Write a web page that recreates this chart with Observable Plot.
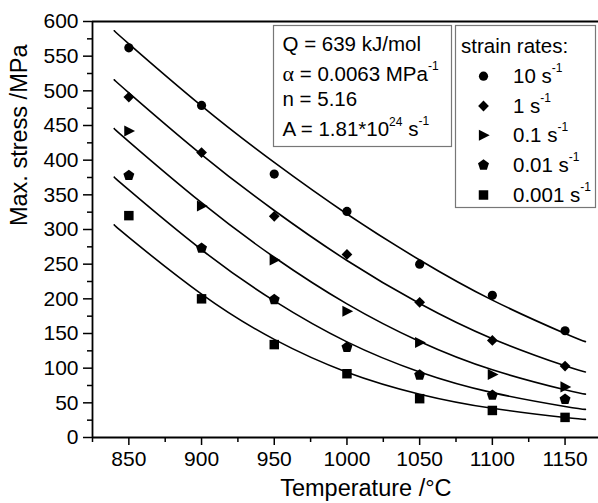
<!DOCTYPE html>
<html>
<head>
<meta charset="utf-8">
<script src="https://cdn.jsdelivr.net/npm/d3@7"></script>
<script src="https://cdn.jsdelivr.net/npm/@observablehq/plot@0.6"></script>
<style>
  html, body { margin: 0; padding: 0; background: #fff; }
  #chart { width: 598px; height: 503px; }
</style>
</head>
<body>
<div id="chart"></div>
<script>
// ---- data ----
const temps = [850, 900, 950, 1000, 1050, 1100, 1150];
const rateLabels = ["10", "1", "0.1", "0.01", "0.001"];
const stress10 = [562, 479, 380, 326, 250, 205, 154];
const stress1 = [491, 411, 319, 264, 195, 140, 103];
const stress01 = [442, 334, 256, 182, 137, 91, 73];
const stress001 = [378, 273, 199, 130, 90, 61, 55];
const stress0001 = [320, 200, 134, 92, 56, 39, 29];

// fitted curves
const fitTemps = [840, 850, 900, 950, 1000, 1050, 1100, 1150, 1164];
const fit10 = [586.7, 567.8, 478.3, 396.7, 322.4, 256.0, 198.1, 150.0, 138.3];
const fit1 = [516.0, 497.2, 408.1, 327.4, 255.3, 193.2, 142.5, 103.4, 94.5];
const fit01 = [445.5, 426.8, 338.6, 260.0, 192.7, 138.4, 97.6, 68.8, 62.5];
const fit001 = [375.5, 357.0, 270.8, 197.0, 137.9, 94.5, 64.7, 44.8, 40.6];
const fit0001 = [306.7, 288.6, 206.8, 141.5, 94.2, 62.5, 42.1, 28.9, 26.1];

const yTicks = [0, 50, 100, 150, 200, 250, 300, 350, 400, 450, 500, 550, 600];
const yMinor = [25, 75, 125, 175, 225, 275, 325, 375, 425, 475, 525, 575];
const xTicks = [850, 900, 950, 1000, 1050, 1100, 1150];
const xMinor = [825, 875, 925, 975, 1025, 1075, 1125];

const paramLines = ["Q = 639 kJ/mol", "α = 0.0063 MPa", "n = 5.16", "A = 1.81*10"];

// ---- symbols ----
const kr = s => Math.sqrt(s / Math.PI);
const symCircle = {draw(c, s) { const r = kr(s); c.moveTo(r, 0); c.arc(0, 0, r, 0, 2 * Math.PI); }};
const symDiamond = {draw(c, s) { const h = kr(s) * 1.17; c.moveTo(0, -h); c.lineTo(h, 0); c.lineTo(0, h); c.lineTo(-h, 0); c.closePath(); }};
const symTriRight = {draw(c, s) { const k = kr(s); c.moveTo(-1.0 * k, -1.2 * k); c.lineTo(1.35 * k, 0); c.lineTo(-1.0 * k, 1.2 * k); c.closePath(); }};
const symPentagon = {draw(c, s) {
  const R = kr(s) * 1.25;
  for (let i = 0; i < 5; i++) {
    const a = -Math.PI / 2 + i * 2 * Math.PI / 5;
    const x = R * Math.cos(a), y = R * Math.sin(a);
    if (i === 0) c.moveTo(x, y); else c.lineTo(x, y);
  }
  c.closePath();
}};
const symSquare = {draw(c, s) { const h = kr(s) * 1.03; c.moveTo(-h, -h); c.lineTo(h, -h); c.lineTo(h, h); c.lineTo(-h, h); c.closePath(); }};

const seriesPts = [stress10, stress1, stress01, stress001, stress0001];
const seriesFit = [fit10, fit1, fit01, fit001, fit0001];
const symbols = [symCircle, symDiamond, symTriRight, symPentagon, symSquare];

const points = [];
rateLabels.forEach((r, i) => temps.forEach((t, j) => points.push({rate: r, T: t, s: seriesPts[i][j], si: i})));
const fits = [];
rateLabels.forEach((r, i) => fitTemps.forEach((t, j) => fits.push({rate: r, T: t, s: seriesFit[i][j]})));

const R0 = 4.6;
const marks = [
  Plot.ruleY([600], {stroke: "#000", strokeWidth: 1.8}),
  Plot.ruleX([825], {stroke: "#000", strokeWidth: 1.8}),
  Plot.ruleY([0], {stroke: "#000", strokeWidth: 1.8}),
  Plot.axisY(yTicks, {tickSize: 9, tickPadding: 5, strokeWidth: 1.5, label: null, fontSize: 21, tickFormat: d => String(d)}),
  Plot.axisY(yMinor, {tickSize: 5, strokeWidth: 1.5, label: null, tickFormat: () => ""}),
  Plot.axisX(xTicks, {tickSize: 8, tickPadding: 6, strokeWidth: 1.5, label: null, fontSize: 21, tickFormat: d => String(d)}),
  Plot.axisX(xMinor, {tickSize: 5, strokeWidth: 1.5, label: null, tickFormat: () => ""}),
  Plot.line(fits, {x: "T", y: "s", z: "rate", curve: "natural", stroke: "#000", strokeWidth: 1.6}),
  ...symbols.map((sym, i) => Plot.dot(points.filter(d => d.si === i), {x: "T", y: "s", r: R0, symbol: sym, fill: "#000", stroke: "none"})),
  Plot.text(["Temperature /°C"], {x: [1013], frameAnchor: "bottom", dy: 58, lineAnchor: "bottom", fontSize: 23.5, fill: "#000"}),
  Plot.text(["Max. stress /MPa"], {y: [305], frameAnchor: "left", dx: -73, rotate: -90, fontSize: 23.5, fill: "#000"})
];

const svg = Plot.plot({
  width: 598,
  height: 503,
  marginLeft: 92,
  marginRight: 0,
  marginTop: 21,
  marginBottom: 66,
  x: {domain: [825, 1173]},
  y: {domain: [0, 600]},
  style: {fontFamily: "'Liberation Sans', Arial, sans-serif", fontSize: "20px", color: "#000", background: "#fff", overflow: "visible"},
  marks
});

// ---- inset boxes (parameters and legend) ----
const g = d3.select(svg).append("g")
  .attr("font-family", "'Liberation Sans', Arial, sans-serif")
  .attr("font-size", 20.5)
  .attr("text-anchor", "start")
  .attr("fill", "#000");

g.append("rect").attr("x", 273.5).attr("y", 25.5).attr("width", 178).attr("height", 121)
  .attr("fill", "#fff").attr("stroke", "#777").attr("stroke-width", 1.2);
const pBase = [51, 81, 106, 136];
g.append("text").attr("x", 282.5).attr("y", pBase[0]).text(paramLines[0]);
{
  const t = g.append("text").attr("x", 282.5).attr("y", pBase[1]);
  t.append("tspan").attr("font-family", "'Liberation Serif', 'Times New Roman', serif").attr("font-size", 22).text(paramLines[1].slice(0, 1));
  t.append("tspan").text(paramLines[1].slice(1));
  t.append("tspan").attr("font-size", 12).attr("dy", -11).text("-1");
}
g.append("text").attr("x", 282.5).attr("y", pBase[2]).text(paramLines[2]);
{
  const t = g.append("text").attr("x", 282.5).attr("y", pBase[3]);
  t.append("tspan").text(paramLines[3]);
  t.append("tspan").attr("font-size", 12).attr("dy", -10).text("24");
  t.append("tspan").attr("dy", 10).text(" s");
  t.append("tspan").attr("font-size", 12).attr("dy", -11).text("-1");
}

// legend
g.append("rect").attr("x", 455.5).attr("y", 25.5).attr("width", 140).attr("height", 182)
  .attr("fill", "#fff").attr("stroke", "#777").attr("stroke-width", 1.2);
g.append("text").attr("x", 461).attr("y", 53).text("strain rates:");
const lBase = [82.7, 112.5, 141.8, 171.5, 201.5];
rateLabels.forEach((r, i) => {
  g.append("path")
    .attr("transform", `translate(483.5,${lBase[i] - 6.5})`)
    .attr("d", d3.symbol(symbols[i], Math.PI * R0 * R0)())
    .attr("fill", "#000");
  const t = g.append("text").attr("x", 513).attr("y", lBase[i]);
  t.append("tspan").text(r + " s");
  t.append("tspan").attr("font-size", 12).attr("dy", -11).text("-1");
});

document.getElementById("chart").appendChild(svg);
</script>
</body>
</html>
